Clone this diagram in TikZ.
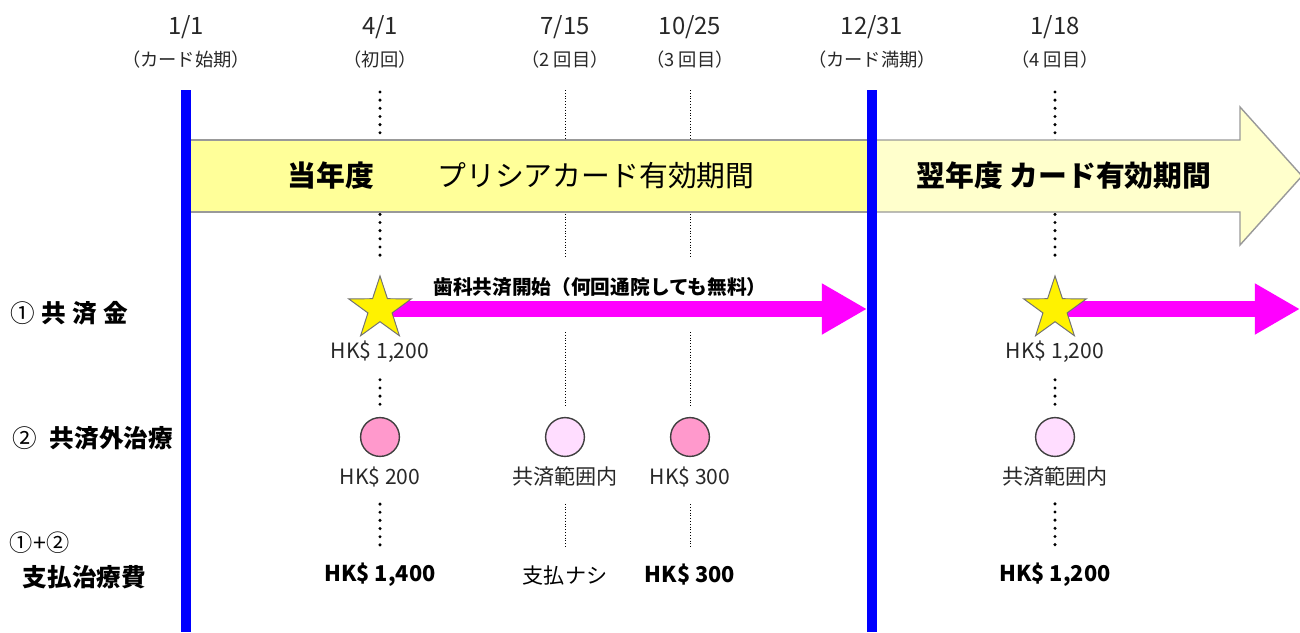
\documentclass[tikz,border=0pt]{standalone}
\usepackage{fontspec}
\setmainfont{Noto Sans CJK JP}
\usetikzlibrary{shapes.geometric,arrows.meta}

\definecolor{bandyellow}{RGB}{255,255,153}
\definecolor{bandpale}{RGB}{255,255,204}
\definecolor{pinkdark}{RGB}{255,153,204}
\definecolor{pinklight}{RGB}{255,221,255}
\definecolor{freemag}{RGB}{255,0,255}
\definecolor{txtgray}{RGB}{40,40,40}

\tikzset{
  datelbl/.style={font=\fontsize{17}{19}\selectfont, text=txtgray},
  sublbl/.style={font=\fontsize{13}{15}\selectfont, text=txtgray},
  amount/.style={font=\fontsize{15}{17}\selectfont, text=txtgray},
  total/.style={font=\fontsize{15.5}{17}\selectfont\bfseries},
  rowlbl/.style={font=\fontsize{17.5}{19}\selectfont, anchor=west},
  bandtxt/.style={font=\fontsize{20.5}{22}\selectfont},
  bluebar/.style={draw=blue, line width=0.25cm},
  dotthick/.style={line width=2.4pt, line cap=round, dash pattern=on 0pt off 5.8pt},
  dotthin/.style={line width=0.6pt, dash pattern=on 0.7pt off 1.3pt},
  coin/.style={circle, draw=black!75, line width=1pt, minimum size=0.97cm, inner sep=0pt},
  bonus/.style={star, star points=5, star point ratio=2.6, minimum size=1.65cm,
    inner sep=0pt, fill=yellow, draw=black!55, line width=0.7pt},
  freearrow/.style={draw=freemag, line width=0.4cm,
    -{Triangle[length=1.13cm, width=1.2cm]}}
}

\begin{document}
\begin{tikzpicture}[x=0.025cm, y=-0.025cm]
    \useasboundingbox (0,0) rectangle (1300,632);

    % dates on top
    \node[datelbl] (d1) at (186,27) {1/1};
    \node[datelbl] (d2) at (380,27) {4/1};
    \node[datelbl] (d3) at (565,27) {7/15};
    \node[datelbl] (d4) at (690,27) {10/25};
    \node[datelbl] (d5) at (872,27) {12/31};
    \node[datelbl] (d6) at (1055,27) {1/18};
    \node[sublbl] (s1) at (186,60) {（カード始期）};
    \node[sublbl] (s2) at (380,60) {（初回）};
    \node[sublbl] (s3) at (565,60) {（2 回目）};
    \node[sublbl] (s4) at (690,60) {（3 回目）};
    \node[sublbl] (s5) at (872,60) {（カード満期）};
    \node[sublbl] (s6) at (1055,60) {（4 回目）};

    % dotted guide lines
    \draw[dotthick] (380,92) -- (380,262);
    \draw[dotthick] (1055,92) -- (1055,258);
    \draw[dotthin] (565,90) -- (565,258);
    \draw[dotthin] (690,90) -- (690,258);

    % card periods
    \draw[fill=bandyellow, draw=black!40, line width=1pt]
        (186,140) rectangle (872,212);
    \draw[fill=bandpale, draw=black!40, line width=1pt]
        (872,140) -- (1240,140) -- (1240,107) -- (1302,176)
        -- (1240,245) -- (1240,212) -- (872,212);
    \node[bandtxt, font=\fontsize{20.5}{22}\selectfont\bfseries] (y1) at (331,176) {当年度};
    \node[bandtxt] (y2) at (596,176) {プリシアカード有効期間};
    \node[bandtxt, font=\fontsize{20.5}{22}\selectfont\bfseries] (y3) at (1064,176) {翌年度 カード有効期間};

    \draw[bluebar] (186,90) -- (186,632);
    \draw[bluebar] (872,90) -- (872,632);

    % free treatment arrows
    \coordinate (p1) at (380,309);
    \coordinate (e1) at (867,309);
    \coordinate (p2) at (1055,309);
    \coordinate (e2) at (1300,309);
    \draw[freearrow] (p1) -- (e1);
    \draw[freearrow] (p2) -- (e2);
    \node[bonus] (st1) at (p1) {};
    \node[bonus] (st2) at (p2) {};
    \node[font=\fontsize{14}{16}\selectfont\bfseries] (free) at (600,287)
        {歯科共済開始（何回通院しても無料）};

    % row labels
    \node[rowlbl] (r1) at (6,313) {① \textbf{共\;済\;金}};
    \node[rowlbl] (r2) at (8,438) {②\; \textbf{共済外治療}};
    \node[rowlbl, font=\fontsize{16.5}{18}\selectfont] (r3) at (5,543) {①+②};
    \node[rowlbl, font=\fontsize{17.5}{19}\selectfont\bfseries] (r4) at (18,577) {支払治療費};

    % fee
    \node[amount] (f1) at (380,352) {HK\$ 1,200};
    \node[amount] (f2) at (1055,352) {HK\$ 1,200};

    % treatments
    \node[coin, fill=pinkdark] (c1) at (380,437) {};
    \node[coin, fill=pinklight] (c2) at (565,437) {};
    \node[coin, fill=pinkdark] (c3) at (690,437) {};
    \node[coin, fill=pinklight] (c4) at (1055,437) {};
    \node[amount] (a1) at (380,477) {HK\$ 200};
    \node[amount] (a2) at (565,477) {共済範囲内};
    \node[amount] (a3) at (690,477) {HK\$ 300};
    \node[amount] (a4) at (1055,477) {共済範囲内};

    \draw[dotthick, shorten <=0.3cm, shorten >=0.3cm] (f1.south) -- (c1.north);
    \draw[dotthick, shorten <=0.3cm, shorten >=0.3cm] (f2.south) -- (c4.north);
    \draw[dotthin] (565,332) -- (565,407);
    \draw[dotthin] (690,332) -- (690,407);

    % totals
    \node[total] (t1) at (380,575) {HK\$ 1,400};
    \node[total, font=\fontsize{15}{17}\selectfont] (t2) at (565,575) {支払ナシ};
    \node[total] (t3) at (690,575) {HK\$ 300};
    \node[total] (t4) at (1055,575) {HK\$ 1,200};

    \draw[dotthick, shorten <=0.3cm, shorten >=0.3cm] (a1.south) -- (t1.north);
    \draw[dotthick, shorten <=0.3cm, shorten >=0.3cm] (a4.south) -- (t4.north);
    \draw[dotthin, shorten <=0.3cm, shorten >=0.3cm] (a2.south) -- (t2.north);
    \draw[dotthin, shorten <=0.3cm, shorten >=0.3cm] (a3.south) -- (t3.north);
\end{tikzpicture}
\end{document}
